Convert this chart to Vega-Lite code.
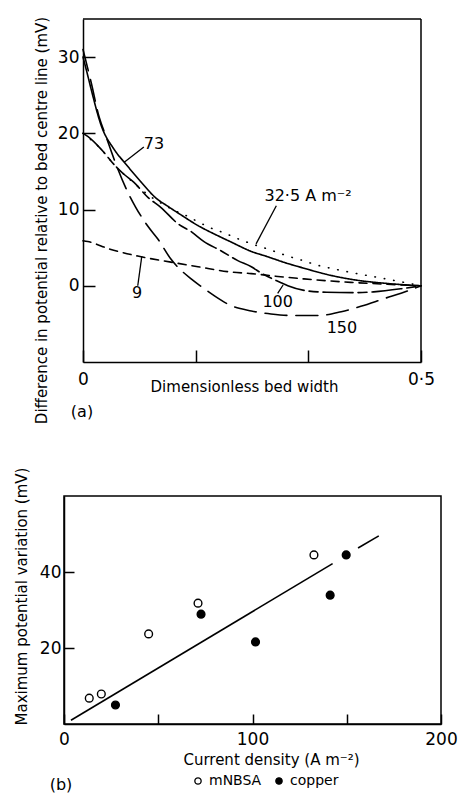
{
  "$schema": "https://vega.github.io/schema/vega-lite/v6.json",
  "background": "white",
  "padding": {"left": 13, "top": 16, "right": 0, "bottom": 0},
  "config": {
    "font": "DejaVu Sans",
    "view": {"stroke": "black", "strokeWidth": 1.5},
    "axis": {
      "grid": false, "domainColor": "black", "domainWidth": 1.5,
      "tickColor": "black", "tickWidth": 1.5,
      "labelColor": "black", "titleColor": "black",
      "labelFont": "DejaVu Sans", "titleFont": "DejaVu Sans",
      "labelFontSize": 17, "titleFontSize": 15, "titleFontWeight": "normal",
      "labelFlush": false
    },
    "legend": {"labelFont": "DejaVu Sans", "labelColor": "black"}
  },
  "datasets": {
    "curves": [
      {"series": "73", "x": 0, "y": 30}, {"series": "73", "x": 0.005, "y": 28.3}, {"series": "73", "x": 0.012, "y": 25.8},
      {"series": "73", "x": 0.027, "y": 21.0}, {"series": "73", "x": 0.046, "y": 17.9}, {"series": "73", "x": 0.064, "y": 15.9},
      {"series": "73", "x": 0.086, "y": 13.6}, {"series": "73", "x": 0.108, "y": 11.5}, {"series": "73", "x": 0.126, "y": 10.4},
      {"series": "73", "x": 0.145, "y": 9.3}, {"series": "73", "x": 0.17, "y": 7.9}, {"series": "73", "x": 0.194, "y": 6.8},
      {"series": "73", "x": 0.22, "y": 5.7}, {"series": "73", "x": 0.249, "y": 4.5}, {"series": "73", "x": 0.27, "y": 3.9},
      {"series": "73", "x": 0.3, "y": 3.0}, {"series": "73", "x": 0.327, "y": 2.3}, {"series": "73", "x": 0.36, "y": 1.5},
      {"series": "73", "x": 0.4, "y": 0.8}, {"series": "73", "x": 0.45, "y": 0.3}, {"series": "73", "x": 0.5, "y": 0},

      {"series": "32.5", "x": 0, "y": 20}, {"series": "32.5", "x": 0.027, "y": 17.9}, {"series": "32.5", "x": 0.046, "y": 15.9},
      {"series": "32.5", "x": 0.075, "y": 13.5}, {"series": "32.5", "x": 0.1, "y": 11.7}, {"series": "32.5", "x": 0.12, "y": 10.6},
      {"series": "32.5", "x": 0.135, "y": 9.9}, {"series": "32.5", "x": 0.155, "y": 9.1}, {"series": "32.5", "x": 0.17, "y": 8.4},
      {"series": "32.5", "x": 0.186, "y": 7.7}, {"series": "32.5", "x": 0.204, "y": 7.1}, {"series": "32.5", "x": 0.234, "y": 6.0},
      {"series": "32.5", "x": 0.253, "y": 5.4}, {"series": "32.5", "x": 0.274, "y": 4.8}, {"series": "32.5", "x": 0.303, "y": 3.9},
      {"series": "32.5", "x": 0.322, "y": 3.4}, {"series": "32.5", "x": 0.347, "y": 2.7}, {"series": "32.5", "x": 0.377, "y": 2.1},
      {"series": "32.5", "x": 0.411, "y": 1.5}, {"series": "32.5", "x": 0.43, "y": 1.2}, {"series": "32.5", "x": 0.451, "y": 0.85},
      {"series": "32.5", "x": 0.466, "y": 0.6}, {"series": "32.5", "x": 0.5, "y": 0},

      {"series": "100", "x": 0, "y": 20}, {"series": "100", "x": 0.007, "y": 19.6}, {"series": "100", "x": 0.027, "y": 17.9},
      {"series": "100", "x": 0.046, "y": 15.9}, {"series": "100", "x": 0.061, "y": 14.6}, {"series": "100", "x": 0.075, "y": 13.6},
      {"series": "100", "x": 0.096, "y": 11.6}, {"series": "100", "x": 0.115, "y": 10.3}, {"series": "100", "x": 0.141, "y": 8.1},
      {"series": "100", "x": 0.16, "y": 7.1}, {"series": "100", "x": 0.179, "y": 5.8}, {"series": "100", "x": 0.204, "y": 4.6},
      {"series": "100", "x": 0.229, "y": 3.3}, {"series": "100", "x": 0.249, "y": 2.5}, {"series": "100", "x": 0.263, "y": 1.7},
      {"series": "100", "x": 0.293, "y": 0.4}, {"series": "100", "x": 0.303, "y": 0}, {"series": "100", "x": 0.327, "y": -0.6},
      {"series": "100", "x": 0.36, "y": -0.85}, {"series": "100", "x": 0.4, "y": -0.9}, {"series": "100", "x": 0.43, "y": -0.8},
      {"series": "100", "x": 0.47, "y": -0.4}, {"series": "100", "x": 0.5, "y": 0},

      {"series": "9", "x": 0, "y": 5.9}, {"series": "9", "x": 0.007, "y": 5.8}, {"series": "9", "x": 0.04, "y": 4.8},
      {"series": "9", "x": 0.081, "y": 3.9}, {"series": "9", "x": 0.13, "y": 3.1}, {"series": "9", "x": 0.17, "y": 2.5},
      {"series": "9", "x": 0.219, "y": 1.8}, {"series": "9", "x": 0.249, "y": 1.6}, {"series": "9", "x": 0.28, "y": 1.3},
      {"series": "9", "x": 0.327, "y": 0.9}, {"series": "9", "x": 0.396, "y": 0.45}, {"series": "9", "x": 0.45, "y": 0.2},
      {"series": "9", "x": 0.5, "y": 0},

      {"series": "150", "x": 0, "y": 31}, {"series": "150", "x": 0.012, "y": 26.7}, {"series": "150", "x": 0.024, "y": 22.1},
      {"series": "150", "x": 0.034, "y": 19.6}, {"series": "150", "x": 0.046, "y": 16.6}, {"series": "150", "x": 0.064, "y": 12.7},
      {"series": "150", "x": 0.078, "y": 10.3}, {"series": "150", "x": 0.096, "y": 7.8}, {"series": "150", "x": 0.111, "y": 6.1},
      {"series": "150", "x": 0.13, "y": 3.5}, {"series": "150", "x": 0.16, "y": 0.9}, {"series": "150", "x": 0.175, "y": -0.1},
      {"series": "150", "x": 0.194, "y": -1.3}, {"series": "150", "x": 0.219, "y": -2.6}, {"series": "150", "x": 0.249, "y": -3.3},
      {"series": "150", "x": 0.278, "y": -3.7}, {"series": "150", "x": 0.308, "y": -3.9}, {"series": "150", "x": 0.348, "y": -3.9},
      {"series": "150", "x": 0.382, "y": -3.4}, {"series": "150", "x": 0.411, "y": -2.7}, {"series": "150", "x": 0.445, "y": -1.7},
      {"series": "150", "x": 0.481, "y": -0.65}, {"series": "150", "x": 0.5, "y": 0}
    ],
    "leadersA": [
      {"x": 0.090, "y": 18.2, "x2": 0.061, "y2": 16.2},
      {"x": 0.286, "y": 10.5, "x2": 0.256, "y2": 5.5},
      {"x": 0.087, "y": 3.9, "x2": 0.081, "y2": 0},
      {"x": 0.296, "y": 0.1, "x2": 0.288, "y2": -1.0}
    ],
    "labelsA": [
      {"label": "73", "x": 0.105, "y": 18.6},
      {"label": "32·5 A m⁻²", "x": 0.333, "y": 11.8},
      {"label": "9", "x": 0.080, "y": -1.0},
      {"label": "100", "x": 0.288, "y": -2.1},
      {"label": "150", "x": 0.383, "y": -5.6},
      {"label": "(a)", "x": -0.0015, "y": -16.5}
    ],
    "fit": [
      {"seg": "a", "x": 3.7, "y": 1.0}, {"seg": "a", "x": 142.5, "y": 42.2},
      {"seg": "b", "x": 156, "y": 46.3}, {"seg": "b", "x": 167, "y": 49.5}
    ],
    "points": [
      {"electrolyte": "mNBSA", "x": 13.4, "y": 6.8},
      {"electrolyte": "mNBSA", "x": 19.8, "y": 7.9},
      {"electrolyte": "mNBSA", "x": 44.9, "y": 23.7},
      {"electrolyte": "mNBSA", "x": 71.1, "y": 31.8},
      {"electrolyte": "mNBSA", "x": 132.6, "y": 44.5},
      {"electrolyte": "copper", "x": 27.3, "y": 5.0},
      {"electrolyte": "copper", "x": 72.7, "y": 28.9},
      {"electrolyte": "copper", "x": 101.6, "y": 21.6},
      {"electrolyte": "copper", "x": 141.2, "y": 33.9},
      {"electrolyte": "copper", "x": 149.7, "y": 44.5}
    ],
    "labelsB": [
      {"label": "(b)", "x": -1.6, "y": -16.0}
    ]
  },
  "concat": [
    {
      "width": 357,
      "height": 343,
      "view": {"stroke": null},
      "layer": [
        {
          "data": {"name": "curves"},
          "mark": {"type": "line", "interpolate": "monotone", "color": "black", "strokeWidth": 1.6, "strokeCap": "round"},
          "encoding": {
            "x": {
              "field": "x", "type": "quantitative",
              "scale": {"domain": [0, 0.5], "range": [19, 357], "nice": false, "zero": false},
              "axis": {
                "values": [0, 0.16667, 0.33333, 0.5],
                "labelExpr": "datum.value == 0 ? '0' : (datum.value == 0.5 ? '0·5' : '')",
                "tickSize": -12, "labelPadding": 21,
                "title": "Dimensionless bed width", "titleX": 180, "titleY": 17
              }
            },
            "y": {
              "field": "y", "type": "quantitative",
              "scale": {"domain": [-10, 35], "nice": false, "zero": false},
              "axis": {
                "values": [0, 10, 20, 30], "offset": -19,
                "tickSize": -12, "labelPadding": 16,
                "title": "Difference in potential relative to bed centre line (mV)",
                "titleX": -34, "titleY": 201
              }
            },
            "strokeDash": {
              "field": "series", "type": "nominal",
              "scale": {"domain": ["9", "32.5", "73", "100", "150"], "range": [[8, 6], [0.5, 9], [1, 0], [30, 5, 9, 5], [22, 9]]},
              "legend": null
            }
          }
        },
        {
          "data": {"values": [{}]},
          "mark": {"type": "rule", "color": "black", "strokeWidth": 1.5},
          "encoding": {
            "x": {"datum": 0, "type": "quantitative"},
            "x2": {"datum": 0.5},
            "y": {"datum": 35, "type": "quantitative"}
          }
        },
        {
          "data": {"values": [{}]},
          "mark": {"type": "rule", "color": "black", "strokeWidth": 1.5},
          "encoding": {
            "x": {"datum": 0.5, "type": "quantitative"},
            "y": {"datum": -10, "type": "quantitative"},
            "y2": {"datum": 35}
          }
        },
        {
          "data": {"name": "leadersA"},
          "mark": {"type": "rule", "color": "black", "strokeWidth": 1.3},
          "encoding": {
            "x": {"field": "x", "type": "quantitative"},
            "y": {"field": "y", "type": "quantitative"},
            "x2": {"field": "x2"},
            "y2": {"field": "y2"}
          }
        },
        {
          "data": {"name": "labelsA"},
          "mark": {"type": "text", "fontSize": 16, "color": "black", "align": "center", "baseline": "middle"},
          "encoding": {
            "x": {"field": "x", "type": "quantitative"},
            "y": {"field": "y", "type": "quantitative"},
            "text": {"field": "label"}
          }
        }
      ]
    },
    {
      "width": 377,
      "height": 228,
      "layer": [
        {
          "data": {"name": "fit"},
          "mark": {"type": "line", "color": "black", "strokeWidth": 1.6},
          "encoding": {
            "x": {
              "field": "x", "type": "quantitative",
              "scale": {"domain": [0, 200], "nice": false, "zero": false},
              "axis": {
                "values": [0, 50, 100, 150, 200],
                "labelExpr": "datum.value % 100 == 0 ? datum.label : ''",
                "tickSize": -10, "labelPadding": 17,
                "title": "Current density (A m⁻²)", "titleX": 207, "titleY": 28
              }
            },
            "y": {
              "field": "y", "type": "quantitative",
              "scale": {"domain": [0, 60], "nice": false, "zero": false},
              "axis": {
                "values": [20, 40],
                "tickSize": -10, "labelPadding": 13,
                "title": "Maximum potential variation (mV)",
                "titleX": -35, "titleY": 100
              }
            },
            "detail": {"field": "seg", "type": "nominal"}
          }
        },
        {
          "data": {"name": "points"},
          "mark": {"type": "point", "shape": "circle", "filled": true, "stroke": "black", "strokeWidth": 1.4, "size": 60, "opacity": 1},
          "encoding": {
            "x": {"field": "x", "type": "quantitative"},
            "y": {"field": "y", "type": "quantitative"},
            "fill": {
              "field": "electrolyte", "type": "nominal",
              "scale": {"domain": ["mNBSA", "copper"], "range": ["white", "black"]},
              "legend": {
                "title": null, "orient": "none", "legendX": 127, "legendY": 755, "direction": "horizontal",
                "symbolType": "circle", "symbolSize": 40, "symbolStrokeColor": "black", "symbolStrokeWidth": 1.3,
                "labelFontSize": 14, "labelOffset": 4, "columnPadding": 10, "padding": 0
              }
            }
          }
        },
        {
          "data": {"name": "labelsB"},
          "mark": {"type": "text", "fontSize": 16, "color": "black", "align": "center", "baseline": "middle"},
          "encoding": {
            "x": {"field": "x", "type": "quantitative"},
            "y": {"field": "y", "type": "quantitative"},
            "text": {"field": "label"}
          }
        }
      ]
    }
  ],
  "columns": 1,
  "align": "none",
  "spacing": 42
}
